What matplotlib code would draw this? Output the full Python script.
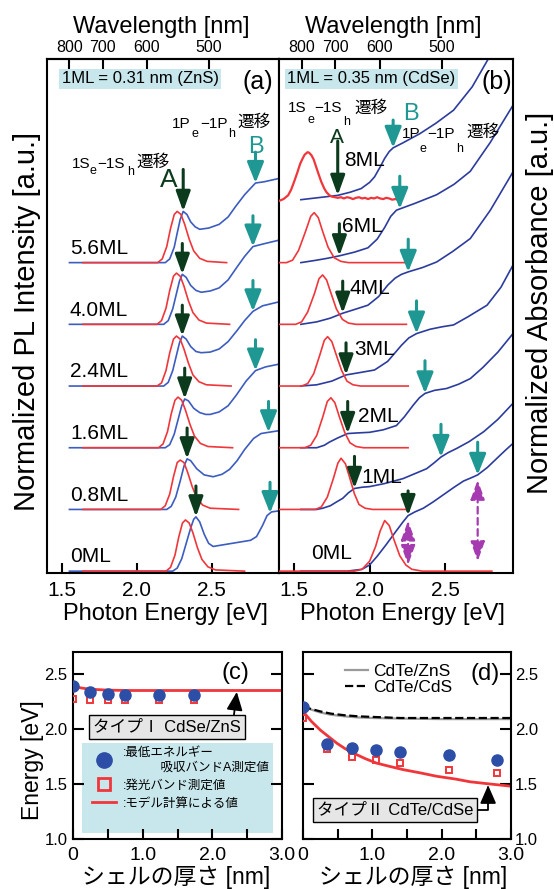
import numpy as np
import matplotlib
matplotlib.use("Agg")
import matplotlib.pyplot as plt
from matplotlib.lines import Line2D
from matplotlib.patches import Rectangle

# ---------------- data: panel (a) CdSe/ZnS ----------------
a_labels = ['0ML', '0.8ML', '1.6ML', '2.4ML', '4.0ML', '5.6ML']
a_pl_E = [
    [1.64, 2.195, 2.225, 2.255, 2.28, 2.305, 2.325, 2.35, 2.375, 2.405, 2.435, 2.475, 2.525, 2.72],
    [1.64, 2.16, 2.19, 2.22, 2.245, 2.27, 2.29, 2.315, 2.34, 2.37, 2.40, 2.44, 2.49, 2.68],
    [1.64, 2.145, 2.175, 2.205, 2.23, 2.255, 2.275, 2.30, 2.325, 2.355, 2.385, 2.425, 2.475, 2.64],
    [1.64, 2.135, 2.165, 2.195, 2.22, 2.245, 2.265, 2.29, 2.315, 2.345, 2.375, 2.415, 2.465, 2.63],
    [1.64, 2.135, 2.165, 2.195, 2.22, 2.245, 2.265, 2.29, 2.315, 2.345, 2.375, 2.415, 2.465, 2.62],
    [1.64, 2.14, 2.17, 2.20, 2.225, 2.25, 2.27, 2.295, 2.32, 2.35, 2.38, 2.42, 2.47, 2.60],
]
a_pl_I = [
    [0, 0, 0.06, 0.26, 0.55, 0.78, 0.83, 0.78, 0.62, 0.38, 0.19, 0.07, 0.02, 0],
    [0, 0, 0.06, 0.25, 0.53, 0.76, 0.80, 0.76, 0.60, 0.37, 0.19, 0.07, 0.02, 0],
    [0, 0, 0.06, 0.26, 0.55, 0.77, 0.82, 0.77, 0.61, 0.38, 0.19, 0.07, 0.02, 0],
    [0, 0, 0.05, 0.25, 0.54, 0.76, 0.81, 0.76, 0.60, 0.37, 0.18, 0.07, 0.02, 0],
    [0, 0, 0.06, 0.26, 0.55, 0.78, 0.83, 0.78, 0.62, 0.38, 0.19, 0.07, 0.02, 0],
    [0, 0, 0.06, 0.26, 0.55, 0.78, 0.83, 0.78, 0.62, 0.38, 0.19, 0.07, 0.02, 0],
]
a_abs_E = [
    [1.55, 2.24, 2.27, 2.30, 2.33, 2.36, 2.38, 2.395, 2.42, 2.45, 2.48, 2.51, 2.56, 2.66, 2.76, 2.80, 2.84, 2.87, 2.90, 2.96],
    [1.55, 2.20, 2.23, 2.26, 2.29, 2.315, 2.336, 2.36, 2.40, 2.45, 2.51, 2.57, 2.62, 2.67, 2.72, 2.78, 2.83, 2.88, 2.96],
    [1.55, 2.19, 2.22, 2.25, 2.275, 2.30, 2.32, 2.345, 2.38, 2.42, 2.46, 2.49, 2.55, 2.61, 2.664, 2.73, 2.793, 2.86, 2.96],
    [1.55, 2.18, 2.21, 2.24, 2.265, 2.285, 2.304, 2.33, 2.36, 2.395, 2.43, 2.49, 2.55, 2.61, 2.67, 2.72, 2.776, 2.84, 2.96],
    [1.55, 2.18, 2.21, 2.24, 2.265, 2.285, 2.304, 2.33, 2.36, 2.395, 2.43, 2.49, 2.55, 2.61, 2.67, 2.72, 2.776, 2.84, 2.96],
    [1.55, 2.19, 2.22, 2.25, 2.27, 2.29, 2.31, 2.335, 2.36, 2.39, 2.42, 2.48, 2.55, 2.61, 2.66, 2.72, 2.793, 2.85, 2.96],
]
a_abs_I = [
    [0, 0, 0.05, 0.20, 0.45, 0.70, 0.84, 0.88, 0.80, 0.60, 0.45, 0.40, 0.42, 0.46, 0.50, 0.56, 0.74, 0.90, 0.96, 0.98],
    [0, 0, 0.05, 0.20, 0.46, 0.70, 0.82, 0.79, 0.66, 0.56, 0.53, 0.57, 0.65, 0.79, 0.97, 1.15, 1.23, 1.25, 1.28],
    [0, 0, 0.05, 0.22, 0.45, 0.68, 0.79, 0.76, 0.64, 0.57, 0.54, 0.54, 0.58, 0.68, 0.85, 1.08, 1.25, 1.31, 1.36],
    [0, 0, 0.06, 0.25, 0.50, 0.70, 0.81, 0.76, 0.64, 0.56, 0.54, 0.55, 0.60, 0.72, 0.90, 1.06, 1.21, 1.30, 1.37],
    [0, 0, 0.06, 0.25, 0.50, 0.70, 0.81, 0.76, 0.63, 0.55, 0.52, 0.54, 0.59, 0.72, 0.93, 1.10, 1.26, 1.30, 1.37],
    [0, 0, 0.06, 0.25, 0.48, 0.70, 0.83, 0.78, 0.66, 0.58, 0.54, 0.56, 0.62, 0.74, 0.91, 1.10, 1.29, 1.31, 1.37],
]
a_A_eV = [2.395, 2.336, 2.32, 2.304, 2.304, 2.31]
a_B_eV = [2.89, 2.88, 2.793, 2.776, 2.776, 2.793]

# ---------------- data: panel (b) CdTe/CdSe ----------------
b_labels = ['0ML', '1ML', '2ML', '3ML', '4ML', '6ML', '8ML']
b_pl_E = [
    [1.40, 1.90, 1.95, 2.00, 2.04, 2.07, 2.10, 2.13, 2.16, 2.20, 2.24, 2.28, 2.35, 2.81],
    [1.40, 1.64, 1.68, 1.72, 1.76, 1.79, 1.811, 1.84, 1.87, 1.90, 1.93, 1.97, 2.02, 2.255],
    [1.40, 1.57, 1.61, 1.65, 1.69, 1.72, 1.744, 1.77, 1.80, 1.835, 1.87, 1.91, 1.96, 2.255],
    [1.40, 1.55, 1.59, 1.63, 1.67, 1.70, 1.722, 1.75, 1.78, 1.815, 1.85, 1.89, 1.94, 2.256],
    [1.40, 1.51, 1.55, 1.59, 1.635, 1.665, 1.689, 1.715, 1.745, 1.78, 1.82, 1.86, 1.91, 2.244],
    [1.40, 1.45, 1.49, 1.53, 1.575, 1.61, 1.633, 1.66, 1.69, 1.725, 1.765, 1.81, 1.86, 2.244],
    [1.40, 1.43, 1.46, 1.48, 1.50, 1.52, 1.54, 1.555, 1.57, 1.58, 1.589, 1.60, 1.615, 1.63, 1.645,
     1.66, 1.68, 1.70, 1.715, 1.735, 1.75, 1.77, 1.79, 1.81, 1.83, 1.85, 1.87, 1.89, 1.91, 1.93,
     1.95, 1.97, 1.99, 2.01, 2.03, 2.05, 2.07, 2.09, 2.11, 2.13, 2.15, 2.17, 2.19],
]
b_pl_I = [
    [0, 0, 0.03, 0.16, 0.40, 0.65, 0.82, 0.74, 0.52, 0.25, 0.10, 0.03, 0, 0],
    [0, 0, 0.04, 0.20, 0.50, 0.75, 0.83, 0.74, 0.50, 0.25, 0.08, 0.02, 0, 0],
    [0, 0, 0.04, 0.20, 0.50, 0.75, 0.81, 0.73, 0.50, 0.25, 0.08, 0.02, 0, 0],
    [0, 0, 0.04, 0.20, 0.50, 0.74, 0.80, 0.72, 0.50, 0.25, 0.08, 0.02, 0, 0],
    [0, 0, 0.04, 0.20, 0.50, 0.74, 0.80, 0.72, 0.50, 0.25, 0.08, 0.02, 0, 0],
    [0, 0, 0.04, 0.20, 0.50, 0.75, 0.81, 0.73, 0.50, 0.25, 0.08, 0.02, 0, 0],
    [0.0, 0.03, 0.09, 0.18, 0.31, 0.45, 0.60, 0.68, 0.75, 0.77, 0.79, 0.78, 0.74, 0.67, 0.56,
     0.45, 0.31, 0.20, 0.14, 0.09, 0.07, 0.06, 0.05, 0.06, 0.04, 0.06, 0.05, 0.03, 0.05, 0.06,
     0.04, 0.05, 0.03, 0.05, 0.04, 0.06, 0.04, 0.03, 0.05, 0.04, 0.02, 0.03, 0.02],
]
b_abs_E = [
    [1.545, 1.85, 1.95, 2.00, 2.05, 2.11, 2.17, 2.222, 2.255, 2.30, 2.356, 2.42, 2.49, 2.56, 2.622, 2.68, 2.716, 2.78, 2.844, 2.90, 2.95],
    [1.545, 1.65, 1.69, 1.74, 1.78, 1.822, 1.86, 1.90, 1.95, 2.00, 2.10, 2.222, 2.30, 2.378, 2.43, 2.473, 2.52, 2.578, 2.66, 2.756, 2.85, 2.95],
    [1.545, 1.65, 1.70, 1.733, 1.79, 1.855, 1.92, 2.00, 2.09, 2.178, 2.23, 2.289, 2.33, 2.367, 2.43, 2.51, 2.59, 2.667, 2.75, 2.85, 2.95],
    [1.545, 1.65, 1.75, 1.844, 1.94, 2.033, 2.12, 2.211, 2.26, 2.311, 2.40, 2.48, 2.556, 2.65, 2.778, 2.87, 2.95],
    [1.545, 1.65, 1.74, 1.822, 1.90, 1.989, 2.06, 2.122, 2.17, 2.211, 2.256, 2.35, 2.444, 2.55, 2.667, 2.80, 2.95],
    [1.545, 1.65, 1.72, 1.80, 1.90, 1.989, 2.05, 2.10, 2.14, 2.178, 2.20, 2.30, 2.444, 2.56, 2.667, 2.80, 2.95],
    [1.545, 1.65, 1.72, 1.789, 1.87, 1.944, 2.00, 2.033, 2.07, 2.10, 2.13, 2.156, 2.22, 2.333, 2.44, 2.556, 2.68, 2.80],
]
b_abs_I = [
    [0, 0, 0.03, 0.10, 0.24, 0.43, 0.63, 0.80, 0.90, 0.96, 1.02, 1.12, 1.24, 1.36, 1.46, 1.52, 1.56, 1.68, 1.83, 1.96, 2.07],
    [0, 0, 0.02, 0.06, 0.12, 0.18, 0.27, 0.34, 0.36, 0.37, 0.42, 0.50, 0.58, 0.66, 0.76, 0.85, 0.92, 0.99, 1.10, 1.26, 1.46, 1.72],
    [0, 0, 0.04, 0.09, 0.16, 0.23, 0.24, 0.25, 0.29, 0.36, 0.50, 0.69, 0.81, 0.88, 0.93, 0.96, 1.03, 1.12, 1.30, 1.55, 1.85],
    [0, 0.02, 0.08, 0.18, 0.22, 0.26, 0.40, 0.66, 0.78, 0.85, 0.92, 0.96, 0.99, 1.12, 1.31, 1.60, 1.96],
    [0, 0.04, 0.10, 0.18, 0.24, 0.31, 0.45, 0.64, 0.75, 0.81, 0.85, 0.92, 1.01, 1.18, 1.39, 1.85, 2.47],
    [0, 0.04, 0.07, 0.11, 0.17, 0.24, 0.38, 0.57, 0.75, 0.85, 0.87, 0.96, 1.10, 1.27, 1.48, 1.95, 2.55],
    [0.02, 0.05, 0.07, 0.09, 0.14, 0.20, 0.30, 0.39, 0.55, 0.69, 0.80, 0.86, 0.94, 1.09, 1.26, 1.47, 1.85, 2.36],
]
b_A_eV = [2.255, 1.90, 1.855, 1.844, 1.822, 1.80, 1.789]
b_B_eV = [2.716, 2.473, 2.367, 2.311, 2.256, 2.20, 2.156]

# ---------------- data: panels (c), (d) ----------------
c_shell = [0, 0.25, 0.50, 0.74, 1.24, 1.74]
c_absA = [2.39, 2.335, 2.315, 2.31, 2.31, 2.31]
c_pl = [2.275, 2.265, 2.26, 2.26, 2.26, 2.26]
c_model_x = [0, 0.1, 0.2, 0.3, 0.45, 0.6, 0.8, 1.2, 2.0, 3.0]
c_model_y = [2.39, 2.375, 2.365, 2.36, 2.355, 2.352, 2.35, 2.35, 2.35, 2.35]

d_shell = [0, 0.35, 0.70, 1.05, 1.40, 2.10, 2.80]
d_absA = [2.20, 1.86, 1.83, 1.81, 1.79, 1.76, 1.72]
d_pl = [2.10, 1.82, 1.75, 1.72, 1.69, 1.63, 1.60]
d_model_x = [0, 0.12, 0.25, 0.37, 0.49, 0.61, 0.73, 0.9, 1.06, 1.25, 1.45, 1.7, 1.93, 2.2, 2.41, 2.7, 3.0]
d_model_y = [2.16, 2.07, 1.99, 1.93, 1.87, 1.82, 1.78, 1.73, 1.69, 1.66, 1.63, 1.60, 1.57, 1.545, 1.52, 1.50, 1.48]
d_zns_x = [0, 0.1, 0.25, 0.4, 0.6, 0.8, 1.0, 1.4, 2.0, 3.0]
d_zns_y = [2.20, 2.18, 2.15, 2.13, 2.115, 2.105, 2.10, 2.095, 2.09, 2.09]
d_cds_y = [2.20, 2.185, 2.16, 2.14, 2.125, 2.115, 2.11, 2.10, 2.10, 2.10]

# ---------------- style ----------------
RED = '#f0363a'
BLUE_A = '#3d5cc0'
BLUE_B = '#2c3c9e'
DKGREEN = '#0c3a1c'
TEAL = '#1f9893'
MAGENTA = '#a63ab0'
DOT = '#2d4ea6'
LIGHTBLUE = '#c8e7ec'

plt.rcParams['font.family'] = ['Liberation Sans', 'Noto Sans CJK JP']
plt.rcParams['axes.linewidth'] = 1.5

W, H = 554, 889
fig = plt.figure(figsize=(W / 100, H / 100), dpi=100)


def box(x0, y0, x1, y1):
    return [x0 / W, 1 - y1 / H, (x1 - x0) / W, (y1 - y0) / H]


def px(x, y):
    return x / W, 1 - y / H


def ev2nm(e):
    e = np.asarray(e, dtype=float)
    with np.errstate(divide='ignore', invalid='ignore'):
        return 1239.84 / e


def down_arrow(ax, x, y, length, color, hl, hw, lw):
    ax.annotate('', xy=(x, y), xytext=(x, y + length),
                arrowprops=dict(arrowstyle=f'-|>,head_length={hl},head_width={hw}',
                                color=color, lw=lw, shrinkA=0, shrinkB=0,
                                mutation_scale=12), zorder=6)


ax_a = fig.add_axes(box(47, 59, 279, 573))
ax_b = fig.add_axes(box(279, 59, 513, 573))
ax_c = fig.add_axes(box(73, 652, 282, 839))
ax_d = fig.add_axes(box(303, 652, 511, 839))

for ax in (ax_a, ax_b):
    ax.set_xlim(1.4, 2.95)
    ax.set_ylim(-0.03, 8.3)
    ax.set_yticks([])
    ax.set_xticks([1.5, 2.0, 2.5])
    ax.set_xticklabels(['1.5', '2.0', '2.5'])
    ax.tick_params(axis='x', direction='in', length=7, width=1.5, labelsize=15, pad=6)
    sec = ax.secondary_xaxis('top', functions=(ev2nm, ev2nm))
    sec.set_xticks([800, 700, 600, 500])
    sec.tick_params(direction='in', length=7, width=1.5, labelsize=11.5, pad=3)
    sec.spines['top'].set_linewidth(1.5)

# ---- panel (a) ----
for i in range(len(a_labels)):
    ax_a.plot(a_abs_E[i], np.asarray(a_abs_I[i]) + i, color=BLUE_A, lw=1.2, zorder=2)
    ax_a.plot(a_pl_E[i], np.asarray(a_pl_I[i]) + i, color=RED, lw=1.2, zorder=3)
    ax_a.text(1.553, i + 0.23, a_labels[i], fontsize=15, ha='left', va='center')
    ya = np.interp(a_A_eV[i], a_abs_E[i], a_abs_I[i]) + i
    down_arrow(ax_a, a_A_eV[i], ya, 0.68 if i == len(a_labels) - 1 else 0.5, DKGREEN, 1.0, 0.36, 2.2)
    yb = np.interp(a_B_eV[i], a_abs_E[i], a_abs_I[i]) + i
    down_arrow(ax_a, a_B_eV[i], yb, 0.5, TEAL, 1.05, 0.42, 2.2)

# ---- panel (b) ----
b_label_pos = [(1.613, 0.29), (1.947, 0.51), (1.92, 0.51), (1.90, 0.59),
               (1.867, 0.58), (1.82, 0.58), (1.833, 0.66)]
for i in range(len(b_labels)):
    ax_b.plot(b_abs_E[i], np.asarray(b_abs_I[i]) + i, color=BLUE_B, lw=1.2, zorder=2)
    ax_b.plot(b_pl_E[i], np.asarray(b_pl_I[i]) + i, color=RED,
              lw=1.6 if i == len(b_labels) - 1 else 1.2, zorder=3)
    lx, ly = b_label_pos[i]
    ax_b.text(lx, i + ly, b_labels[i], fontsize=15, ha='left', va='center', zorder=7)
    ya = np.interp(b_A_eV[i], b_abs_E[i], b_abs_I[i]) + i
    la = 0.88 if i == len(b_labels) - 1 else (0.4 if i == 0 else 0.52)
    down_arrow(ax_b, b_A_eV[i], ya, la, DKGREEN, 1.0, 0.36, 2.2)
    yb = np.interp(b_B_eV[i], b_abs_E[i], b_abs_I[i]) + i
    down_arrow(ax_b, b_B_eV[i], yb, 0.45 if i == len(b_labels) - 1 else 0.53, TEAL, 1.05, 0.42, 2.2)

# magenta double arrows on the 0ML absorbance
for e, lo in ((b_A_eV[0], 0.1), (b_B_eV[0], 0.16)):
    top = np.interp(e, b_abs_E[0], b_abs_I[0]) - 0.08
    ax_b.annotate('', xy=(e, top), xytext=(e, lo),
                  arrowprops=dict(arrowstyle='<|-|>,head_length=1.0,head_width=0.36',
                                  color=MAGENTA, lw=1.6, ls=(0, (3, 2)), shrinkA=0, shrinkB=0,
                                  mutation_scale=12), zorder=6)

# ---- texts on (a)/(b) ----
fig.text(*px(161, 33), 'Wavelength [nm]', fontsize=17, ha='center', va='baseline')
fig.text(*px(393, 33), 'Wavelength [nm]', fontsize=17, ha='center', va='baseline')
fig.text(*px(165, 620), 'Photon Energy [eV]', fontsize=17, ha='center', va='baseline')
fig.text(*px(402, 620), 'Photon Energy [eV]', fontsize=17, ha='center', va='baseline')
fig.text(*px(27, 321), 'Normalized PL Intensity [a.u.]', fontsize=21, rotation=90,
         ha='center', va='center')
fig.text(*px(540, 303), 'Normalized Absorbance [a.u.]', fontsize=21, rotation=90,
         ha='center', va='center')
fig.text(*px(140, 78.5), '1ML = 0.31 nm (ZnS)', fontsize=12, ha='center', va='center',
         bbox=dict(boxstyle='square,pad=0.15', fc=LIGHTBLUE, ec='none'))
fig.text(*px(371.5, 78.5), '1ML = 0.35 nm (CdSe)', fontsize=12, ha='center', va='center',
         bbox=dict(boxstyle='square,pad=0.15', fc=LIGHTBLUE, ec='none'))
fig.text(*px(257.5, 82.5), '(a)', fontsize=18, ha='center', va='center')
fig.text(*px(496.5, 82.5), '(b)', fontsize=18, ha='center', va='center')

trans_texts = [
    (72, 168, '1S', 11), (90, 174, 'e', 9), (97, 168, '−1S', 11), (127, 175, 'h', 9), (136, 167, '遷移', 12),
    (172, 128, '1P', 11), (192, 137, 'e', 9), (200, 128, '−1P', 11), (228, 137, 'h', 9), (237, 127, '遷移', 12),
    (288, 112, '1S', 11), (307, 123, 'e', 9), (314, 112, '−1S', 11), (343, 125, 'h', 9), (354, 113, '遷移', 12),
    (402, 138, '1P', 11), (420, 152, 'e', 9), (427, 138, '−1P', 11), (456, 152, 'h', 9), (466, 137, '遷移', 12),
]
for x, y, s, fs in trans_texts:
    fig.text(*px(x, y), s, fontsize=fs, ha='left', va='baseline')
fig.text(*px(160, 187), 'A', fontsize=19, color=DKGREEN, ha='left', va='baseline')
fig.text(*px(248, 153), 'B', fontsize=17, color=TEAL, ha='left', va='baseline')
fig.text(*px(330, 143), 'A', fontsize=15, color=DKGREEN, ha='left', va='baseline')
fig.text(*px(403, 120), 'B', fontsize=17, color=TEAL, ha='left', va='baseline')

# ---- panels (c), (d) ----
for ax in (ax_c, ax_d):
    ax.set_xlim(0, 3.0)
    ax.set_ylim(1.0, 2.7)
    ax.set_xticks([0, 0.5, 1.0, 1.5, 2.0, 2.5, 3.0])
    ax.set_xticklabels(['0', '', '1.0', '', '2.0', '', '3.0'])
    ax.set_yticks([1.0, 1.5, 2.0, 2.5])
    ax.set_yticklabels(['1.0', '1.5', '2.0', '2.5'])
    ax.tick_params(axis='x', direction='in', length=7, width=1.5, labelsize=14, pad=6)
    ax.tick_params(axis='y', direction='in', length=8, width=1.5, labelsize=12, pad=4,
                   left=True, right=True)
ax_d.tick_params(axis='y', labelleft=False, labelright=True, pad=3)

ax_c.plot(c_model_x, c_model_y, color=RED, lw=2, zorder=2)
ax_c.plot(c_shell, c_pl, ls='none', marker='s', mfc='none', mec=RED, mew=1.4, ms=5, zorder=3)
ax_c.plot(c_shell, c_absA, ls='none', marker='o', color=DOT, ms=8, zorder=4)

ax_d.plot(d_zns_x, d_zns_y, color='#9a9a9a', lw=1.6, zorder=2, label='CdTe/ZnS')
ax_d.plot(d_zns_x, d_cds_y, color='black', lw=1.6, ls='--', zorder=2, label='CdTe/CdS')
ax_d.plot(d_model_x, d_model_y, color=RED, lw=2, zorder=2)
ax_d.plot(d_shell, d_pl, ls='none', marker='s', mfc='none', mec=RED, mew=1.4, ms=5, zorder=3)
ax_d.plot(d_shell, d_absA, ls='none', marker='o', color=DOT, ms=8, zorder=4)
ax_d.legend(loc='upper left', bbox_to_anchor=(0.202, 0.935), frameon=False, fontsize=12.5,
            handlelength=1.3, handletextpad=0.3, labelspacing=0.05, borderpad=0, borderaxespad=0)

# legend box in (c)
ax_c.add_patch(Rectangle((0.043, 0.032), 0.914, 0.481, transform=ax_c.transAxes,
                         fc=LIGHTBLUE, ec='none', zorder=1))
handles = [Line2D([], [], ls='none', marker='o', color=DOT, ms=11),
           Line2D([], [], ls='none', marker='s', mfc='none', mec=RED, mew=2, ms=8),
           Line2D([], [], color=RED, lw=2)]
labels = [':最低エネルギー\n　　　吸収バンドA測定値', ':発光バンド測定値', ':モデル計算による値']
ax_c.legend(handles, labels, loc='upper left', bbox_to_anchor=(0.091, 0.49), frameon=False,
            fontsize=9, handlelength=1.9, handletextpad=0.6, labelspacing=0.5,
            borderpad=0, borderaxespad=0)

ax_c.annotate('タイプⅠ CdSe/ZnS', xy=(2.354, np.interp(2.354, c_model_x, c_model_y)),
              xytext=(0.45, 0.599), textcoords='axes fraction', fontsize=12,
              ha='center', va='center',
              bbox=dict(boxstyle='square,pad=0.25', fc='#e6e6e6', ec='black', lw=1),
              arrowprops=dict(arrowstyle='-|>,head_length=0.8,head_width=0.35', color='black',
                              lw=1.3, shrinkA=0, shrinkB=1, relpos=(0.949, 1.0),
                              mutation_scale=14), zorder=6)
ax_d.annotate('タイプⅡ CdTe/CdSe', xy=(2.67, np.interp(2.67, d_model_x, d_model_y)),
              xytext=(0.442, 0.155), textcoords='axes fraction', fontsize=12,
              ha='center', va='center',
              bbox=dict(boxstyle='square,pad=0.25', fc='#e6e6e6', ec='black', lw=1),
              arrowprops=dict(arrowstyle='-|>,head_length=0.8,head_width=0.35', color='black',
                              lw=1.3, shrinkA=0, shrinkB=1, relpos=(1.0, 0.5),
                              connectionstyle='angle,angleA=0,angleB=90,rad=0',
                              mutation_scale=14), zorder=6)

fig.text(*px(235, 673.5), '(c)', fontsize=17, ha='center', va='center')
fig.text(*px(485, 674), '(d)', fontsize=17, ha='center', va='center')
fig.text(*px(32, 760), 'Energy [eV]', fontsize=16.5, rotation=90, ha='center', va='center')
fig.text(*px(176, 877), 'シェルの厚さ [nm]', fontsize=16.5, ha='center', va='center')
fig.text(*px(413, 877), 'シェルの厚さ [nm]', fontsize=16.5, ha='center', va='center')

fig.savefig('out.png', dpi=100)
